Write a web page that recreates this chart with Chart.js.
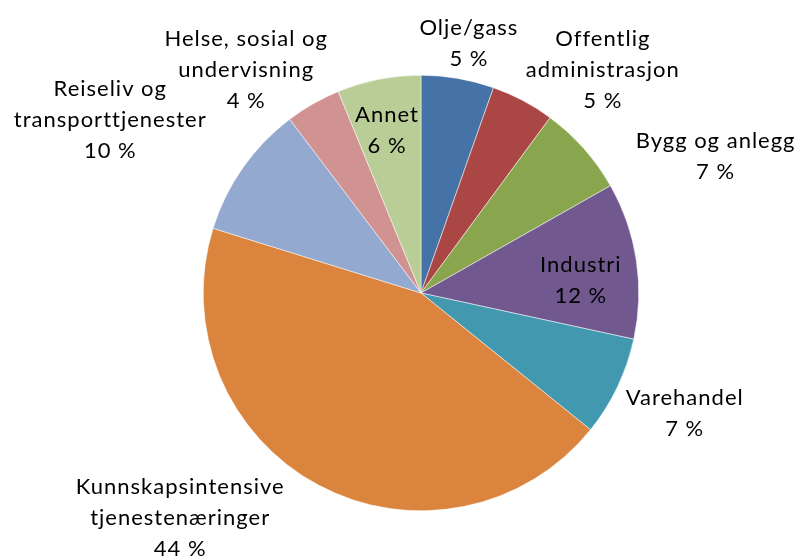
<!DOCTYPE html>
<html><head><meta charset="utf-8">
<script src="https://cdn.jsdelivr.net/npm/chart.js@4"></script>
<style>html,body{margin:0;padding:0;background:#fff;}#wrap{width:799px;height:559px;position:relative;}</style>
</head><body><div id="wrap"><canvas id="c"></canvas></div>
<script>
const categories = ["Olje/gass", "Offentlig administrasjon", "Bygg og anlegg", "Industri", "Varehandel", "Kunnskapsintensive tjenestenæringer", "Reiseliv og transporttjenester", "Helse, sosial og undervisning", "Annet"];
const labelLines = [["Olje/gass"], ["Offentlig", "administrasjon"], ["Bygg og anlegg"], ["Industri"], ["Varehandel"], ["Kunnskapsintensive", "tjenestenæringer"], ["Reiseliv og", "transporttjenester"], ["Helse, sosial og", "undervisning"], ["Annet"]];
const shares = [5.4, 4.7, 6.7, 11.6, 7.4, 44.0, 9.9, 4.1, 6.2];
const colors = ["#4572A7", "#AA4643", "#89A54E", "#71588F", "#4198AF", "#DB843D", "#93A9CF", "#D19392", "#B9CD96"];
// label block centre, in units of the pie radius, relative to the pie centre
const labelPos = [[0.22,-1.147],[0.835,-1.023],[1.353,-0.628],[0.734,-0.06],[1.211,0.555],[-1.106,1.032],[-1.427,-0.794],[-0.803,-1.023],[-0.156,-0.748]];

const FONT = '22px Lato';
const LINE_H = 31;
const labelPlugin = {
  id: 'pieLabels',
  afterDatasetsDraw(chart) {
    const ctx = chart.ctx;
    const meta = chart.getDatasetMeta(0);
    const total = shares.reduce((a,b)=>a+b,0);
    ctx.save();
    ctx.font = FONT;
    try { ctx.letterSpacing = '1px'; } catch (e) {}
    ctx.fillStyle = '#000';
    ctx.textAlign = 'center';
    ctx.textBaseline = 'middle';
    meta.data.forEach((arc, i) => {
      const r = arc.outerRadius;
      const cx = arc.x + labelPos[i][0] * r;
      const cy = arc.y + labelPos[i][1] * r;
      const pct = Math.round(shares[i] / total * 100) + ' %';
      const lines = labelLines[i].concat([pct]);
      const y0 = cy - (lines.length - 1) * LINE_H / 2;
      lines.forEach((t, k) => ctx.fillText(t, cx, y0 + k * LINE_H));
    });
    ctx.restore();
  }
};

new Chart(document.getElementById('c'), {
  type: 'pie',
  data: { labels: categories, datasets: [{ data: shares, backgroundColor: colors, borderColor: '#ffffff', borderWidth: 0.5 }] },
  options: {
    responsive: true, maintainAspectRatio: false, animation: false,
    layout: { padding: { top: 75, bottom: 48, left: 203, right: 160 } },
    plugins: { legend: { display: false }, tooltip: { enabled: false } }
  },
  plugins: [labelPlugin]
});
</script></body></html>
